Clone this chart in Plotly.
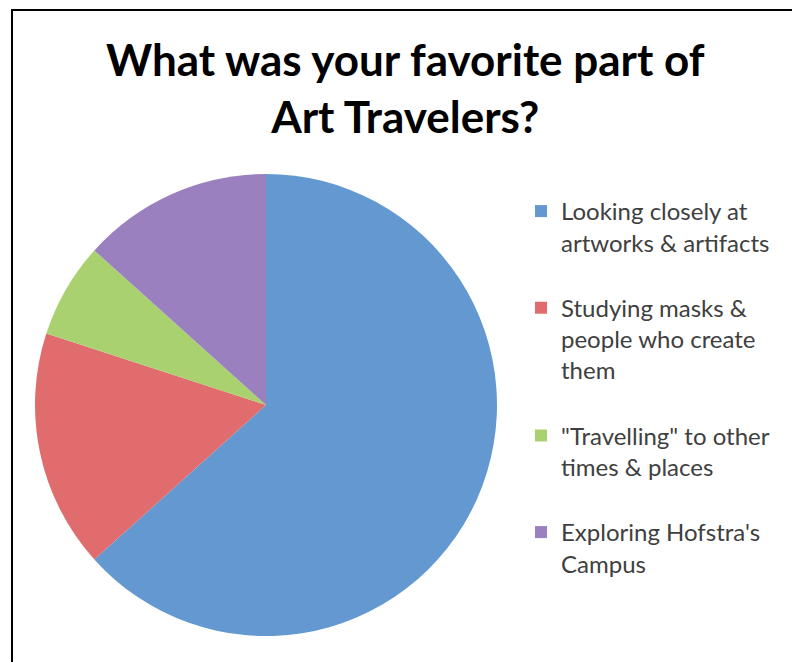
import plotly.graph_objects as go

# Data
categories = [
    "Looking closely at<br>artworks & artifacts",
    "Studying masks &<br>people who create<br>them",
    '"Travelling" to other<br>times & places',
    "Exploring Hofstra's<br>Campus",
]
responses = [19, 5, 2, 4]
colors = ["#6399D0", "#E06C6E", "#A9D170", "#9A80BE"]
title_text = "What was your favorite part of<br>Art Travelers?"

# figure sized so the page (with its 8px body margin) fits the 800x662 window
W, H = 792, 654

# blank lines appended to legend entries to spread items like the original
pad_lines = [1, 1, 1, 0]
legend_labels = [c + "<br> " * p for c, p in zip(categories, pad_lines)]

# pie geometry in paper pixels
cx, cy, r = 258, 397, 231

fig = go.Figure(
    go.Pie(
        labels=legend_labels,
        values=responses,
        sort=False,
        direction="clockwise",
        rotation=0,
        textinfo="none",
        hoverinfo="percent+value",
        marker=dict(colors=colors, line=dict(width=0)),
        domain=dict(x=[(cx - r) / W, (cx + r) / W], y=[1 - (cy + r) / H, 1 - (cy - r) / H]),
    )
)

fig.update_layout(
    width=W,
    height=H,
    margin=dict(l=0, r=0, t=0, b=0),
    paper_bgcolor="white",
    plot_bgcolor="white",
    showlegend=True,
    legend=dict(
        x=513 / W,
        y=1 - 181 / H,
        xanchor="left",
        yanchor="top",
        valign="top",
        font=dict(family="Lato", size=24, color="#404040"),
        bgcolor="rgba(0,0,0,0)",
    ),
    annotations=[
        dict(
            text="<b>" + title_text + "</b>",
            x=397 / W,
            y=1 - 79.5 / H,
            xref="paper",
            yref="paper",
            xanchor="center",
            yanchor="middle",
            showarrow=False,
            font=dict(family="Lato", size=44, color="black"),
        )
    ],
    shapes=[
        # chart-area frame (top and left edges visible in the crop)
        dict(type="line", xref="paper", yref="paper",
             x0=3 / W, x1=1.05, y0=1 - 2 / H, y1=1 - 2 / H,
             line=dict(color="black", width=2)),
        dict(type="line", xref="paper", yref="paper",
             x0=4 / W, x1=4 / W, y0=-0.05, y1=1 - 1 / H,
             line=dict(color="black", width=2)),
    ],
)

fig.write_html("out.html")
